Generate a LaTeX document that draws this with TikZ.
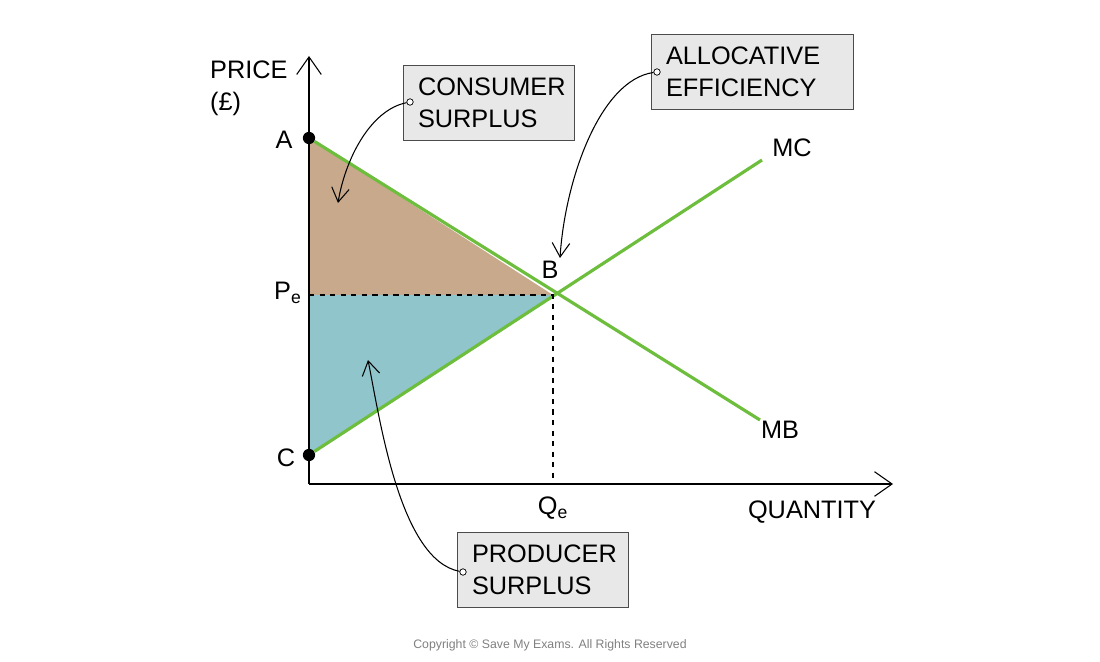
\documentclass[tikz,border=0pt]{standalone}
\usepackage{fontspec}
\setmainfont{Liberation Sans}
\usetikzlibrary{arrows.meta}
\definecolor{curve}{RGB}{108,190,60}
\definecolor{cons}{RGB}{201,169,139}
\definecolor{prod}{RGB}{143,197,203}
\definecolor{boxfill}{RGB}{232,232,232}
\tikzstyle{callout}=[draw=black!70,fill=boxfill,align=left,font=\Large,inner xsep=0.3cm,inner ysep=0pt,minimum height=1.5cm]
\tikzstyle{pointer}=[-{Straight Barb[length=8pt,width=10pt]},semithick]
\tikzstyle{dot}=[circle,fill=black,inner sep=0pt,minimum size=7pt]
\tikzstyle{lbl}=[font=\Large]
\tikzstyle{ring}=[circle,draw,fill=white,inner sep=1.3pt]
\begin{document}
\begin{tikzpicture}[x=0.02cm,y=-0.02cm]
\useasboundingbox (0,0) rectangle (1100,662);
% coordinates
\coordinate (O) at (309,484);
\coordinate (B) at (553,295);
\coordinate (Pe) at (309,295);
\coordinate (Qe) at (553,484);
\coordinate (MBend) at (760,420);
\coordinate (MCend) at (762,160);
\coordinate (ytop) at (309,56);
\coordinate (xend) at (893,484);
% surplus areas
\fill[cons] (309,138) -- (B) -- (Pe) -- cycle;
\fill[prod] (309,455) -- (B) -- (Pe) -- cycle;
% axes
\draw[semithick,-{Straight Barb[length=10pt,width=14pt]}] (O) -- (ytop);
\draw[semithick,-{Straight Barb[length=10pt,width=14pt]}] (O) -- (xend);
% curves
\node[dot] (A) at (309,138) {};
\node[dot] (C) at (309,455) {};
\draw[curve,line width=1.8pt] (A) -- (MBend);
\draw[curve,line width=1.8pt] (C) -- (MCend);
\draw[dashed,semithick] (Pe) -- (B) -- (Qe);
% labels
\node[lbl,align=left,anchor=west] (price) at (204,88) {PRICE\\(£)};
\node[lbl] (lA) at (284,140) {A};
\node[lbl] (lC) at (286,458) {C};
\node[lbl] (lPe) at (288,293) {P$_\mathrm{e}$};
\node[lbl] (lB) at (550,270) {B};
\node[lbl] (lMC) at (792,148) {MC};
\node[lbl] (lMB) at (780,430) {MB};
\node[lbl] (lQe) at (553,508) {Q$_\mathrm{e}$};
\node[lbl] (lQ) at (812,512) {QUANTITY};
% callouts
\node[callout,text width=2.82cm] (cs) at (488.5,102.5) {CONSUMER\\SURPLUS};
\node[callout,text width=3.44cm] (ae) at (752,71.5) {ALLOCATIVE\\EFFICIENCY};
\node[callout,text width=2.82cm] (ps) at (542.5,570) {PRODUCER\\SURPLUS};
\node[ring] (c1) at (410,102) {};
\node[ring] (c2) at (657,72) {};
\node[ring] (c3) at (463,572) {};
\coordinate (t1) at (338,203);
\coordinate (t2) at (560,258);
\coordinate (t3) at (368,360);
\draw[pointer] (c1) .. controls (370,110) and (345,160) .. (t1);
\draw[pointer] (c2) .. controls (600,80) and (565,180) .. (t2);
\draw[pointer] (c3) .. controls (400,560) and (380,420) .. (t3);
\node[font=\scriptsize,text=black!50] (copy) at (550,645) {Copyright © Save My Exams. All Rights Reserved};
\end{tikzpicture}
\end{document}
